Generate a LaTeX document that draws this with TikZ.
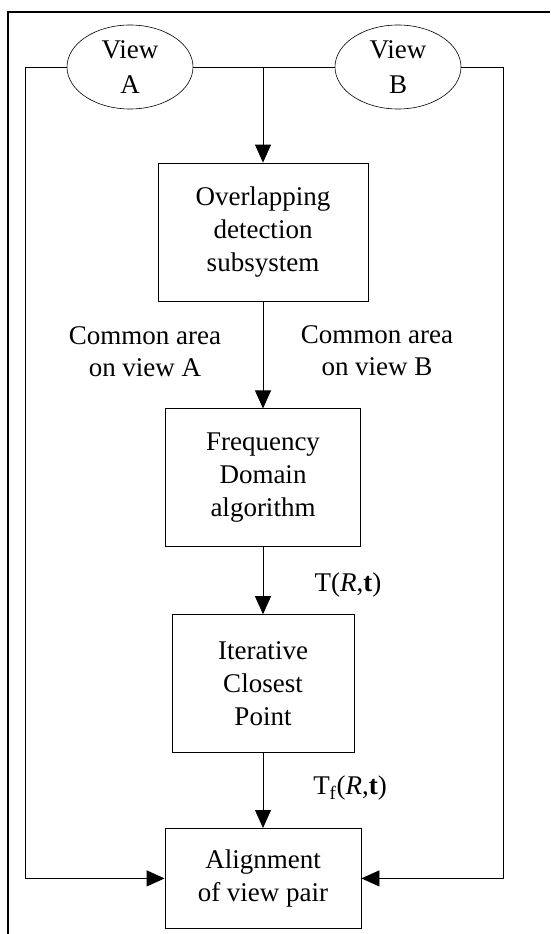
\documentclass[tikz,border=0pt]{standalone}
\usepackage{fontspec}
\setmainfont{Liberation Serif}
\usetikzlibrary{positioning,shapes.geometric,arrows.meta}

\tikzset{
  box/.style={draw=black,line width=0.8pt,align=center,inner sep=0pt,font=\fontsize{27}{33}\selectfont},
  view/.style={draw=black,ellipse,line width=0.6pt,minimum width=126pt,minimum height=84pt,inner sep=0pt,align=center,font=\fontsize{27}{35}\selectfont},
  lbl/.style={align=center,inner sep=0pt,font=\fontsize{27}{32}\selectfont},
  flow/.style={-{Triangle[length=18pt,width=16pt]}},
}

\begin{document}
\begin{tikzpicture}[x=1pt,y=-1pt,line width=0.8pt]
		\useasboundingbox (0,0) rectangle (550,934);
		\draw[line width=1.6pt] (8,934) -- (8,12) -- (550,12);
		
		\node[view] (viewA) at (130,67) {View\\A};
		\node[view] (viewB) at (398,67) {View\\B};
		
		\node[box,minimum width=210pt,minimum height=138pt] (overlap) at (263,232) {Overlapping\\detection\\subsystem};
		\node[box,minimum width=195pt,minimum height=138pt,below=107pt of overlap] (freq) {Frequency\\Domain\\algorithm};
		\node[box,minimum width=182pt,minimum height=138pt,below=67pt of freq] (icp) {Iterative\\Closest\\Point};
		\node[box,minimum width=196pt,minimum height=100pt,below=75pt of icp] (align) {Alignment\\of view pair};
		
		\node[lbl] (areaA) at (145,352) {Common area\\on view A};
		\node[lbl] (areaB) at (377,351) {Common area\\on view B};
		\node[lbl] (trt) at (348,585) {T(\textit{R},\textbf{t})};
		\node[lbl] (tfrt) at (350,788) {T\textsubscript{f}(\textit{R},\textbf{t})};
		
		\coordinate (lt) at (25,67);
		\coordinate (rt) at (503,67);
		\coordinate (split) at (263,67);
		
		\draw (viewA.east) -- (viewB.west);
		\draw[flow] (split) -- (overlap.north);
		\draw[flow] (overlap.south) -- (freq.north);
		\draw[flow] (freq.south) -- (icp.north);
		\draw[flow] (icp.south) -- (align.north);
		\draw[flow] (viewA.west) -- (lt) |- (align.west);
		\draw[flow] (viewB.east) -- (rt) |- (align.east);
	\end{tikzpicture}
\end{document}
